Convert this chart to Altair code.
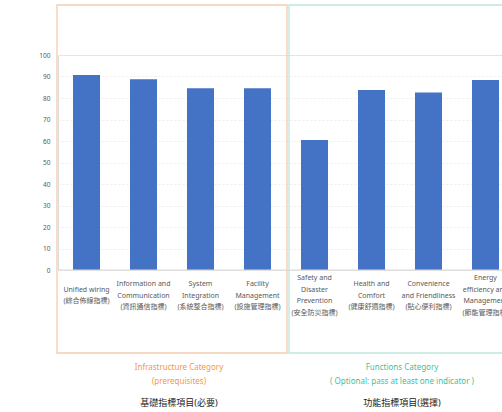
import altair as alt
import pandas as pd

# ---- data ----
categories = [
    "Unified wiring", "Information and Communication", "System Integration",
    "Facility Management", "Safety and Disaster Prevention", "Health and Comfort",
    "Convenience and Friendliness", "Energy efficiency and Management",
]
bar_labels = [
    "Unified wiring\n(綜合佈線指標)",
    "Information and\nCommunication\n(資訊通信指標)",
    "System\nIntegration\n(系統整合指標)",
    "Facility\nManagement\n(設施管理指標)",
    "Safety and\nDisaster\nPrevention\n(安全防災指標)",
    "Health and\nComfort\n(健康舒適指標)",
    "Convenience\nand Friendliness\n(貼心便利指標)",
    "Energy\nefficiency and\nManagement\n(節能管理指標)",
]
values = [90.7, 88.7, 84.5, 84.5, 60.5, 83.7, 82.6, 88.4]
y_ticks = [0, 10, 20, 30, 40, 50, 60, 70, 80, 90, 100]
group_titles = ["Infrastructure Category\n(prerequisites)",
                "Functions Category\n( Optional: pass at least one indicator )"]
group_titles_zh = ["基礎指標項目(必要)", "功能指標項目(選擇)"]

FONT = "Noto Sans, Noto Sans CJK TC"
LH = 11.5
df = pd.DataFrame({"cat": categories, "value": values, "label": bar_labels})

xscale = alt.Scale(domain=categories, range=[0, 456], paddingInner=0.526, paddingOuter=0.263)
X = alt.X("cat:N", scale=xscale, axis=None, sort=categories)

one = alt.Data(values=[{}])

def panel(x1, x2, color):
    return alt.Chart(one).mark_rect(fill="white", fillOpacity=0, stroke=color, strokeWidth=1.3).encode(
        x=alt.value(x1), x2=alt.value(x2), y=alt.value(-50), y2=alt.value(298))

left_panel = panel(-1, 229, "#f4cdae")
right_panel = panel(231, 480, "#bfe6dc")

bars = alt.Chart(df).mark_bar(color="#4472C4").encode(
    x=X,
    y=alt.Y("value:Q", scale=alt.Scale(domain=[0, 100], nice=False),
            axis=alt.Axis(values=y_ticks, title=None, domain=False, ticks=False,
                          labelPadding=8, labelFontSize=6.5, labelColor="#595959",
                          labelFont=FONT, grid=True, gridColor="#f2ebe5",
                          gridDash=[2, 2], gridWidth=1)),
)

baseline = alt.Chart(one).mark_rule(color="#d9d9d9", strokeWidth=1).encode(
    x=alt.value(0), x2=alt.value(444), y=alt.value(215))

labels = alt.Chart(df).transform_calculate(
    n="length(split(datum.label, '\\n'))",
    ypix=f"240.5 - (datum.n - 1) * {LH} / 2",
).mark_text(
    lineBreak="\n", baseline="middle", align="center", fontSize=7,
    lineHeight=LH, color="#595959", font=FONT,
).encode(x=X, y=alt.Y("ypix:Q", scale=None, axis=None), text="label:N")

def group_text(title, zh, cx, color):
    t1 = alt.Chart(pd.DataFrame({"t": [title]})).mark_text(
        lineBreak="\n", baseline="middle", align="center", fontSize=8,
        lineHeight=13.5, color=color, font=FONT,
    ).encode(x=alt.value(cx), y=alt.value(313), text="t:N")
    t2 = alt.Chart(pd.DataFrame({"t": [zh]})).mark_text(
        baseline="middle", align="center", fontSize=9, color="#222222",
        font=FONT,
    ).encode(x=alt.value(cx), y=alt.value(347.5), text="t:N")
    return t1 + t2

g1 = group_text(group_titles[0], group_titles_zh[0], 121, "#f79646")
g2 = group_text(group_titles[1], group_titles_zh[1], 344, "#3fbf9c")

chart = alt.layer(left_panel, right_panel, bars, baseline, labels, g1, g2).resolve_scale(
    y="independent"
).properties(
    width=444, height=215,
    autosize=alt.AutoSizeParams(type="none"),
    padding={"left": 58, "top": 55, "right": 0, "bottom": 142},
).configure_view(stroke=None).configure(background="white")

chart.save("out.html", embed_options={"renderer": "svg", "actions": False})
